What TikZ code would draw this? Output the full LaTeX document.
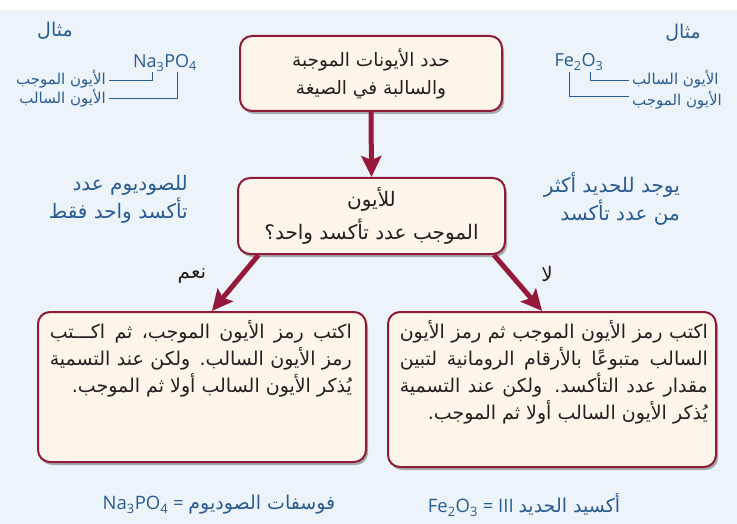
\documentclass[tikz,border=0pt]{standalone}
\usepackage{fontspec}
\setmainfont{DejaVu Sans}
\newfontfamily\arabicfont[Script=Arabic]{DejaVu Sans}
\newfontfamily\latfont{Open Sans}
\TeXXeTstate=1
\usetikzlibrary{arrows.meta,shadows,calc}
\definecolor{bg}{RGB}{237,244,249}
\definecolor{boxline}{RGB}{142,27,58}
\definecolor{boxfill}{RGB}{253,245,234}
\definecolor{arrowc}{RGB}{150,24,58}
\definecolor{bluetxt}{RGB}{42,92,145}
\definecolor{txt}{RGB}{35,31,32}
\newcommand{\AR}[1]{{\arabicfont\beginR #1\endR}}
\newcommand{\JR}[2]{\hbox to #1{\arabicfont #2}}
\tikzset{
  box/.style={draw=boxline, line width=2pt, fill=boxfill, rounded corners=12pt,
    drop shadow={shadow xshift=2pt, shadow yshift=-3pt, opacity=.3, fill=black}},
  boxtext/.style={text=txt, font=\fontsize{19}{27}\selectfont, inner sep=0pt},
  side/.style={text=bluetxt, font=\fontsize{15}{20}\selectfont, inner sep=0pt},
  flow/.style={draw=arrowc, line width=5pt, -{Stealth[length=21pt,width=20pt,inset=4pt]}},
  bline/.style={draw=bluetxt, line width=1pt},
}
\begin{document}
\begin{tikzpicture}[x=1pt,y=-1pt]
\useasboundingbox (0,0) rectangle (737,524);
\fill[white] (0,0) rectangle (737,524);
\fill[bg] (0,10) rectangle (737,524);

% boxes
\node[box, minimum width=262pt, minimum height=75pt, boxtext, align=center,
      font=\fontsize{18.5}{28}\selectfont] (top) at (371,73.5)
  {\AR{حدد الأيونات الموجبة}\\\AR{والسالبة في الصيغة}};
\node[box, minimum width=267pt, minimum height=76pt, boxtext, align=center,
      font=\fontsize{20}{33}\selectfont] (mid) at (371.5,216)
  {\AR{للأيون}\\\AR{الموجب عدد تأكسد واحد؟}};
\node[box, minimum width=328pt, minimum height=150pt] (left) at (202,387) {};
\node[box, minimum width=328pt, minimum height=155pt] (right) at (552,389.5) {};

\node[boxtext, align=right, anchor=north east] (lefttext) at (352,320)
  {\JR{302pt}{\beginR اكتب رمز الأيون الموجب، ثم اكـــتب\endR}\\
   \JR{302pt}{\beginR رمز الأيون السالب. ولكن عند التسمية\endR}\\
   \AR{يُذكر الأيون السالب أولا ثم الموجب.}};
\node[boxtext, align=right, anchor=north east] (righttext) at (708,320)
  {\JR{308pt}{\beginR اكتب رمز الأيون الموجب ثم رمز الأيون\endR}\\
   \JR{308pt}{\beginR السالب متبوعًا بالأرقام الرومانية لتبين\endR}\\
   \JR{308pt}{\beginR مقدار عدد التأكسد. ولكن عند التسمية\endR}\\
   \AR{يُذكر الأيون السالب أولا ثم الموجب.}};

% arrows
\draw[flow] (top.south) -- (mid.north);
\draw[flow] ($(mid.south west)!0.08!(mid.south east)$) -- ($(left.north west)!0.53!(left.north east)$);
\draw[flow] ($(mid.south west)!0.955!(mid.south east)$) -- ($(right.north west)!0.47!(right.north east)$);
\node[text=txt, font=\fontsize{20}{22}\selectfont] (yes) at (192,276) {\AR{نعم}};
\node[text=txt, font=\fontsize{20}{22}\selectfont] (no) at (547,274) {\AR{لا}};

% left examples
\node[side, font=\fontsize{19}{20}\selectfont] (ex1) at (55,31) {\AR{مثال}};
\node[side, font=\latfont\fontsize{18}{20}\selectfont] (na) at (165,63) {Na\textsubscript{3}PO\textsubscript{4}};
\node[side, anchor=east] (lpos) at (106,79) {\AR{الأيون الموجب}};
\node[side, anchor=east] (lneg) at (106,98) {\AR{الأيون السالب}};
\coordinate (naA) at (152,72);
\coordinate (naB) at (177,72);
\draw[bline] ([xshift=3pt,yshift=-2pt]lpos.east) -| (naA);
\draw[bline] ([xshift=3pt,yshift=-1pt]lneg.east) -| (naB);

% right examples
\node[side, font=\fontsize{19}{20}\selectfont] (ex2) at (683,33) {\AR{مثال}};
\node[side, font=\latfont\fontsize{18}{20}\selectfont] (fe) at (579,62) {Fe\textsubscript{2}O\textsubscript{3}};
\node[side, anchor=west] (rneg) at (632,79) {\AR{الأيون السالب}};
\node[side, anchor=west] (rpos) at (632,100) {\AR{الأيون الموجب}};
\coordinate (feA) at (590,72);
\coordinate (feB) at (569,72);
\draw[bline] ([xshift=-3pt,yshift=-2pt]rneg.west) -| (feA);
\draw[bline] ([xshift=-3pt,yshift=3pt]rpos.west) -| (feB);

% middle notes
\node[side, align=right, anchor=east, font=\fontsize{20}{28}\selectfont] (naNote) at (188,199)
  {\AR{للصوديوم عدد}\\\AR{تأكسد واحد فقط}};
\node[side, align=right, anchor=east, font=\fontsize{20}{28}\selectfont] (feNote) at (680,199)
  {\AR{يوجد للحديد أكثر}\\\AR{من عدد تأكسد}};

% bottom names
\node[side, font=\latfont\fontsize{18.5}{20}\selectfont] (naName) at (219,505)
  {Na\textsubscript{3}PO\textsubscript{4} = \AR{\fontsize{19}{20}\selectfont فوسفات الصوديوم}};
\node[side, font=\latfont\fontsize{18.5}{20}\selectfont] (feName) at (524,505)
  {Fe\textsubscript{2}O\textsubscript{3} = III \AR{\fontsize{19}{20}\selectfont أكسيد الحديد}};
\end{tikzpicture}
\end{document}
